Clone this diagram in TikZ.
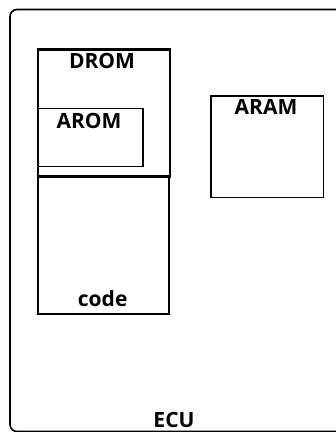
\documentclass[tikz,border=0pt]{standalone}
\usepackage{fontspec}
\setmainfont{Open Sans}
\begin{document}
\begin{tikzpicture}[x=1pt,y=-1pt,
  box/.style={draw=black, line width=1.6pt, inner sep=0pt, anchor=north west},
  lbl/.style={font=\bfseries\fontsize{21}{24}\selectfont, inner sep=0pt, text=black}]
\useasboundingbox (0,0) rectangle (336,432);
\draw[line width=1.6pt, rounded corners=7pt] (10,9.5) rectangle (346,431.5);
\node[box, minimum width=131pt, minimum height=138pt] (code) at (37.3,175) {};
\node[box, line width=2.3pt, minimum width=132pt, minimum height=127pt] (drom) at (36.7,48.3) {};
\node[box, minimum width=105pt, minimum height=58pt] (arom) at (37.3,107.7) {};
\node[box, minimum width=112.5pt, minimum height=101.5pt] (aram) at (210,95) {};
\node[lbl] (tdrom) at (102,61) {DROM};
\node[lbl] (tarom) at (89,121) {AROM};
\node[lbl] (taram) at (266,107) {ARAM};
\node[lbl] (tcode) at (102.7,299) {code};
\node[lbl] (tecu) at (174,420) {ECU};
\end{tikzpicture}
\end{document}
